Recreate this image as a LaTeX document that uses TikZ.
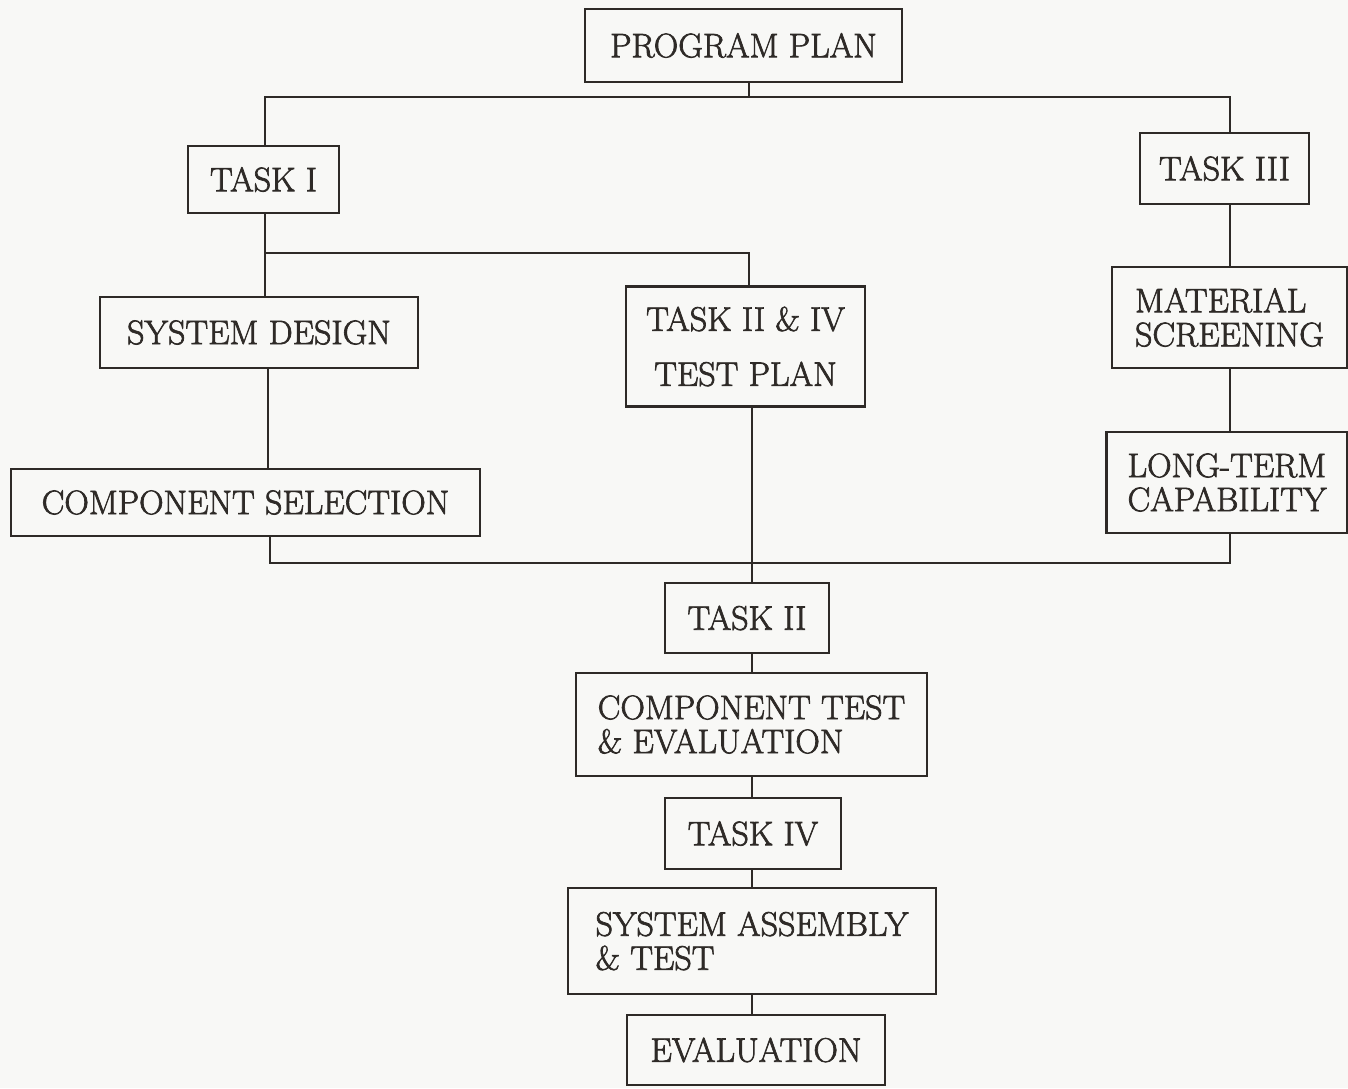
\documentclass[tikz,border=0pt]{standalone}
\definecolor{ink}{HTML}{2E2A27}
\definecolor{paper}{HTML}{F8F8F6}
\newcommand{\heavytext}{\special{pdf:literal direct 2 Tr 0.35 w}}
\tikzset{
  box/.style={draw=ink, line width=1.3pt, inner sep=0pt, text=ink,
    font=\fontsize{17}{17}\selectfont\heavytext},
  conn/.style={draw=ink, line width=1.3pt}
}
\begin{document}
\begin{tikzpicture}[x=0.5pt,y=-0.5pt]
\fill[paper] (0,0) rectangle (1348,1088);
\useasboundingbox (0,0) rectangle (1348,1088);
% nodes
\node[box, minimum width=158.5pt, minimum height=36.5pt] (plan) at (743.5,45.5) {PROGRAM PLAN};
\node[box, minimum width=75.5pt, minimum height=33.5pt] (task1) at (263.5,179.5) {TASK I};
\node[box, minimum width=84.5pt, minimum height=35.5pt] (task3) at (1224.5,168.5) {TASK III};
\node[box, minimum width=159pt, minimum height=35.5pt] (sysdes) at (259,332.5) {SYSTEM DESIGN};
\node[box, minimum width=119.5pt, minimum height=60pt, align=center,
  font=\fontsize{17}{27.5}\selectfont\heavytext] (testplan) at (745.5,346.5) {TASK II \& IV\\TEST PLAN};
\node[box, minimum width=234.5pt, minimum height=33.5pt] (compsel) at (245.5,502.5) {COMPONENT SELECTION};
\node[box, minimum width=117.5pt, minimum height=50.5pt, align=left] (material) at (1229.5,317.5) {MATERIAL\\SCREENING};
\node[box, minimum width=120.5pt, minimum height=50.5pt, align=left] (longterm) at (1227,482.5) {LONG-TERM\\CAPABILITY};
\node[box, minimum width=82pt, minimum height=35pt] (task2) at (747,618) {TASK II};
\node[box, minimum width=175.5pt, minimum height=51.5pt, align=left] (comptest) at (751.5,724.5) {COMPONENT TEST\\\& EVALUATION};
\node[box, minimum width=88pt, minimum height=35.5pt] (task4) at (753,833.5) {TASK IV};
\node[box, minimum width=184pt, minimum height=53pt, align=left] (sysasm) at (752,941) {SYSTEM ASSEMBLY\\\& TEST};
\node[box, minimum width=129pt, minimum height=35pt] (eval) at (756,1050) {EVALUATION};
% junction coordinates
\coordinate (j0) at (749,97);
\coordinate (jL) at (265,97);
\coordinate (jR) at (1230,97);
\coordinate (j1) at (265,253);
\coordinate (j1r) at (749,253);
\coordinate (c1) at (268,0);
\coordinate (b1) at (270,563);
\coordinate (b2) at (1230,563);
\coordinate (m) at (752,563);
\coordinate (r) at (1230,0);
\coordinate (v) at (752,0);
% connectors
\draw[conn] (plan.south -| j0) -- (j0);
\draw[conn] (task1.north -| jL) -- (jL) -- (jR) -- (task3.north -| jR);
\draw[conn] (task1.south -| j1) -- (sysdes.north -| j1);
\draw[conn] (j1) -- (j1r) -- (testplan.north -| j1r);
\draw[conn] (sysdes.south -| c1) -- (compsel.north -| c1);
\draw[conn] (compsel.south -| b1) -- (b1) -- (b2) -- (longterm.south -| b2);
\draw[conn] (testplan.south -| m) -- (task2.north -| m);
\draw[conn] (task3.south -| r) -- (material.north -| r);
\draw[conn] (material.south -| r) -- (longterm.north -| r);
\draw[conn] (task2.south -| v) -- (comptest.north -| v);
\draw[conn] (comptest.south -| v) -- (task4.north -| v);
\draw[conn] (task4.south -| v) -- (sysasm.north -| v);
\draw[conn] (sysasm.south -| v) -- (eval.north -| v);
\end{tikzpicture}
\end{document}
